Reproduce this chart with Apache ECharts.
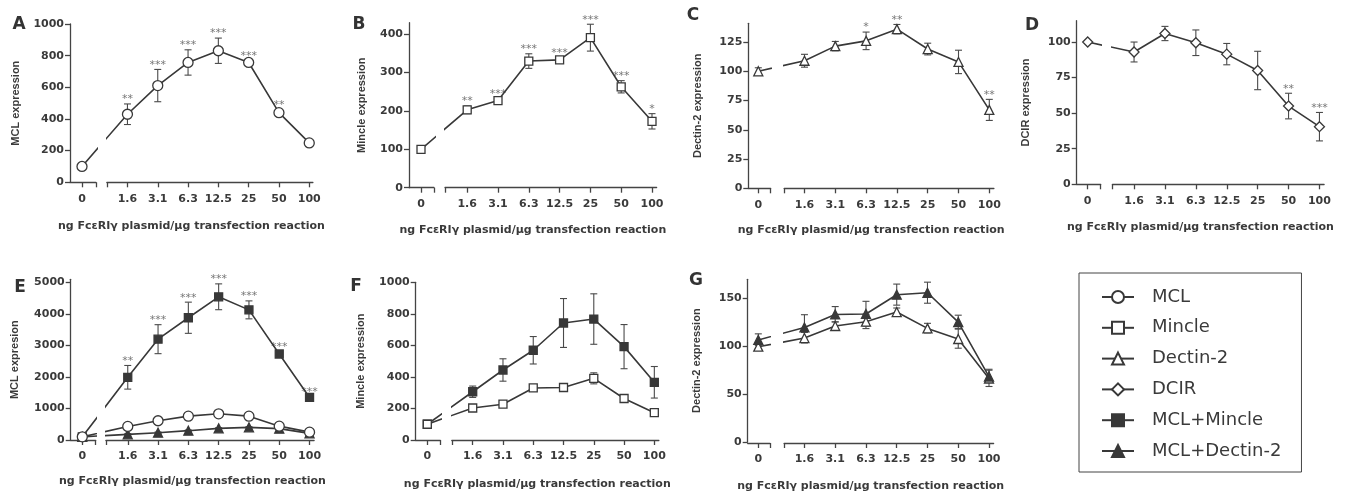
<!DOCTYPE html>
<html><head><meta charset="utf-8">
<script src="https://cdn.jsdelivr.net/npm/echarts@6/dist/echarts.min.js"></script>
<style>html,body{margin:0;padding:0;background:#fff}#c{width:1349px;height:493px}</style>
</head><body><div id="c"></div>
<script>
// ---------- data ----------
const doseLabels = ['0', '1.6', '3.1', '6.3', '12.5', '25', '50', '100'];
const xTitle = 'ng FcεRIγ plasmid/µg transfection reaction';

const mclMean = [100, 430, 611, 757, 831, 757, 440, 249];
const mclErr = [5, 65, 102, 80, 80, 10, 20, 10];
const mincleMean = [100, 203, 227, 330, 333, 391, 263, 173];
const mincleErr = [4, 10, 5, 19, 5, 35, 16, 20];
const dectinMean = [100, 109, 121.5, 126, 136, 119, 108, 67];
const dectinErr = [3, 5.5, 4, 7.5, 4, 5, 10, 9];
const dcirMean = [100, 93, 106, 99.5, 91.5, 80, 55, 40.5];
const dcirErr = [0, 7, 5, 9, 7.5, 13.5, 9, 10];
const mclMincleMeanE = [100, 1990, 3200, 3880, 4545, 4130, 2730, 1350];
const mclMincleErrE = [30, 375, 460, 495, 410, 285, 60, 40];
const mclDectinMeanE = [100, 180, 232, 296, 370, 402, 360, 211];
const mclDectinErrE = [10, 20, 20, 20, 20, 20, 20, 20];
const mclMincleMeanF = [100, 306, 444, 569, 742, 767, 592, 366];
const mclMincleErrF = [4, 36, 71, 87, 155, 160, 140, 100];
const mclDectinMeanG = [107, 120, 133.5, 134, 154, 156, 125.5, 69];
const mclDectinErrG = [6, 13, 8, 13, 11, 11, 7, 6];

const starsA = ['', '**', '***', '***', '***', '***', '**', ''];
const starsB = ['', '**', '***', '***', '***', '***', '***', '*'];
const starsC = ['', '', '', '*', '**', '', '', '**'];
const starsD = ['', '', '', '', '', '', '**', '***'];
const starsE = ['', '**', '***', '***', '***', '***', '***', '***'];

const ticksA = [0, 200, 400, 600, 800, 1000];
const ticksB = [0, 100, 200, 300, 400];
const ticksC = [0, 25, 50, 75, 100, 125];
const ticksD = [0, 25, 50, 75, 100];
const ticksE = [0, 1000, 2000, 3000, 4000, 5000];
const ticksF = [0, 200, 400, 600, 800, 1000];
const ticksG = [0, 50, 100, 150];

const legendNames = ['MCL', 'Mincle', 'Dectin-2', 'DCIR', 'MCL+Mincle', 'MCL+Dectin-2'];

// ---------- styles / layout ----------
const FONT_W = '"DejaVu Sans", sans-serif';
const FONT_N = '"Liberation Sans", Arial, sans-serif';
const DARK = '#383838';
const AXIS = '#444';
const TEXT = '#3a3a3a';
const xPos = doseLabels.map((d, i) => (i === 0 ? 0 : i + 0.5));

const markerStyle = {
  'MCL': { symbol: 'circle', size: 10, fill: '#fff', z: 4 },
  'Mincle': { symbol: 'rect', size: 8, fill: '#fff', z: 4 },
  'Dectin-2': { symbol: 'triangle', size: 9, fill: '#fff', z: 3 },
  'DCIR': { symbol: 'diamond', size: 10, fill: '#fff', z: 4 },
  'MCL+Mincle': { symbol: 'rect', size: 8, fill: DARK, z: 3 },
  'MCL+Dectin-2': { symbol: 'triangle', size: 9, fill: DARK, z: 4 }
};

const panels = [
  { letter: 'A', lx: 19, ly: 25, axisX: 70, zeroX: 82, unit: 30.3, top: 24, bottom: 182.3, ymax: 1000, ticks: ticksA,
    brk: [0.46, 0.82], xmax: 7.62, yName: 'MCL expression', yGap: 49, xGap: 38,
    lines: [{ name: 'MCL', mean: mclMean, err: mclErr, stars: starsA }] },
  { letter: 'B', lx: 359, ly: 25, axisX: 409, zeroX: 421, unit: 30.8, top: 22.7, bottom: 187.7, ymax: 430, ticks: ticksB,
    brk: [0.42, 0.78], xmax: 7.65, yName: 'Mincle expression', yGap: 41.5, xGap: 36.5,
    lines: [{ name: 'Mincle', mean: mincleMean, err: mincleErr, stars: starsB }] },
  { letter: 'C', lx: 693, ly: 16, axisX: 748.3, zeroX: 758.3, unit: 30.8, top: 23.3, bottom: 188.3, ymax: 141, ticks: ticksC,
    brk: [0.40, 0.84], xmax: 7.65, yName: 'Dectin-2 expression', yGap: 45, xGap: 36,
    lines: [{ name: 'Dectin-2', mean: dectinMean, err: dectinErr, stars: starsC }] },
  { letter: 'D', lx: 1032, ly: 26, axisX: 1076.7, zeroX: 1087.7, unit: 30.9, top: 20.7, bottom: 184.3, ymax: 115, ticks: ticksD,
    brk: [0.42, 0.80], xmax: 7.65, yName: 'DCIR expression', yGap: 45, xGap: 37,
    lines: [{ name: 'DCIR', mean: dcirMean, err: dcirErr, stars: starsD }] },
  { letter: 'E', lx: 20, ly: 288, axisX: 70.7, zeroX: 82.3, unit: 30.3, top: 279.3, bottom: 440, ymax: 5100, ticks: ticksE,
    brk: [0.44, 0.78], xmax: 7.65, yName: 'MCL expresion', yGap: 50, xGap: 36,
    lines: [
      { name: 'MCL+Dectin-2', mean: mclDectinMeanE, err: mclDectinErrE, stars: null },
      { name: 'MCL+Mincle', mean: mclMincleMeanE, err: mclMincleErrE, stars: starsE },
      { name: 'MCL', mean: mclMean, err: mclErr, stars: null }
    ] },
  { letter: 'F', lx: 356, ly: 287, axisX: 415.7, zeroX: 427.3, unit: 30.27, top: 282.3, bottom: 440, ymax: 1000, ticks: ticksF,
    brk: [0.43, 0.81], xmax: 7.65, yName: 'Mincle expression', yGap: 49.5, xGap: 39,
    lines: [
      { name: 'MCL+Mincle', mean: mclMincleMeanF, err: mclMincleErrF, stars: null },
      { name: 'Mincle', mean: mincleMean, err: mincleErr, stars: null }
    ] },
  { letter: 'G', lx: 696, ly: 281, axisX: 747.7, zeroX: 758.3, unit: 30.76, top: 279.3, bottom: 443, ymax: 170, ticks: ticksG,
    brk: [0.38, 0.84], xmax: 7.65, yName: 'Dectin-2 expression', yGap: 45, xGap: 39,
    lines: [
      { name: 'Dectin-2', mean: dectinMean, err: dectinErr, stars: null },
      { name: 'MCL+Dectin-2', mean: mclDectinMeanG, err: mclDectinErrG, stars: null }
    ] }
];

function labelFor(v) {
  const i = xPos.findIndex(x => Math.abs(x - v) < 1e-6);
  return i >= 0 ? doseLabels[i] : '';
}

function errRenderer(stars) {
  return function (params, api) {
    const x = api.value(0), m = api.value(1), e = api.value(2);
    const pt = api.coord([x, m + e]);
    const pb = api.coord([x, m - e]);
    const ls = { stroke: '#4a4a4a', lineWidth: 1.1 };
    const children = [];
    if (e > 0) {
      children.push({ type: 'line', shape: { x1: pt[0], y1: pt[1], x2: pb[0], y2: pb[1] }, style: ls });
      children.push({ type: 'line', shape: { x1: pt[0] - 3.5, y1: pt[1], x2: pt[0] + 3.5, y2: pt[1] }, style: ls });
      children.push({ type: 'line', shape: { x1: pb[0] - 3.5, y1: pb[1], x2: pb[0] + 3.5, y2: pb[1] }, style: ls });
    }
    const s = stars && stars[params.dataIndex];
    if (s) {
      children.push({ type: 'text', x: pt[0], y: pt[1] + 1,
        style: { text: s, fill: '#777', font: '11px ' + FONT_W, align: 'center', verticalAlign: 'bottom' } });
    }
    return { type: 'group', children };
  };
}

const grid = [], xAxis = [], yAxis = [], series = [], graphic = [];
const axisLineStyle = { color: AXIS, width: 1.3 };
const tickLabel = { color: TEXT, fontSize: 11, fontWeight: 'bold', fontFamily: FONT_W };

panels.forEach(p => {
  const xmin = (p.axisX - p.zeroX) / p.unit;
  const h = p.bottom - p.top;
  const g0 = grid.length;
  grid.push({ left: p.axisX, top: p.top, width: (p.xmax - xmin) * p.unit, height: h });
  grid.push({ left: p.axisX, top: p.top, width: (p.brk[0] - xmin) * p.unit, height: h });
  grid.push({ left: p.axisX + (p.brk[1] - xmin) * p.unit, top: p.top, width: (p.xmax - p.brk[1]) * p.unit, height: h });

  // full grid: y axis + x axis title
  xAxis.push({ gridIndex: g0, type: 'value', min: xmin, max: p.xmax,
    axisLine: { show: false }, axisTick: { show: false }, axisLabel: { show: false }, splitLine: { show: false },
    name: xTitle, nameLocation: 'middle', nameGap: p.xGap,
    nameTextStyle: { color: TEXT, fontWeight: 'bold', fontFamily: FONT_W, fontSize: 11 } });
  yAxis.push({ gridIndex: g0, type: 'value', min: 0, max: p.ymax,
    axisLine: { show: true, onZero: false, lineStyle: axisLineStyle },
    axisTick: { show: true, length: 5, customValues: p.ticks, lineStyle: axisLineStyle },
    axisLabel: Object.assign({ customValues: p.ticks, margin: 6, formatter: v => String(v) }, tickLabel),
    splitLine: { show: false },
    name: p.yName, nameLocation: 'middle', nameGap: p.yGap,
    nameTextStyle: { color: TEXT, fontWeight: 'bold', fontFamily: FONT_N, fontSize: 11 } });

  // left segment (dose 0)
  xAxis.push({ gridIndex: g0 + 1, type: 'value', min: xmin, max: p.brk[0],
    axisLine: { show: true, onZero: false, lineStyle: axisLineStyle },
    axisTick: { show: true, length: 5, customValues: [xPos[0], p.brk[0]], lineStyle: axisLineStyle },
    axisLabel: Object.assign({ customValues: [xPos[0]], formatter: v => labelFor(v), margin: 11 }, tickLabel),
    splitLine: { show: false } });
  yAxis.push({ gridIndex: g0 + 1, type: 'value', min: 0, max: p.ymax, show: false });

  // right segment (doses 1.6 .. 100)
  xAxis.push({ gridIndex: g0 + 2, type: 'value', min: p.brk[1], max: p.xmax,
    axisLine: { show: true, onZero: false, lineStyle: axisLineStyle },
    axisTick: { show: true, length: 5, customValues: [p.brk[1]].concat(xPos.slice(1)), lineStyle: axisLineStyle },
    axisLabel: Object.assign({ customValues: xPos.slice(1), formatter: v => labelFor(v), margin: 11 }, tickLabel),
    splitLine: { show: false } });
  yAxis.push({ gridIndex: g0 + 2, type: 'value', min: 0, max: p.ymax, show: false });

  p.lines.forEach(l => {
    const st = markerStyle[l.name];
    const pts = xPos.map((x, i) => [x, l.mean[i]]);
    [g0 + 1, g0 + 2].forEach(gi => {
      series.push({ type: 'line', name: l.name, xAxisIndex: gi, yAxisIndex: gi, data: pts, clip: true,
        symbol: st.symbol, symbolSize: st.size, showSymbol: true, showAllSymbol: true,
        lineStyle: { color: DARK, width: 1.6 },
        itemStyle: { color: st.fill, borderColor: DARK, borderWidth: 1.3, opacity: 1 },
        emphasis: { disabled: true }, z: st.z, animation: false, silent: true });
    });
    series.push({ type: 'custom', name: 'err-' + l.name, xAxisIndex: g0, yAxisIndex: g0,
      data: xPos.map((x, i) => [x, l.mean[i], l.err[i]]),
      renderItem: errRenderer(l.stars), z: 1, silent: true, animation: false });
  });

  graphic.push({ type: 'text', x: p.lx, y: p.ly,
    style: { text: p.letter, font: 'bold 17px ' + FONT_W, fill: '#333', align: 'center', verticalAlign: 'middle' } });
});

const option = {
  backgroundColor: '#fff',
  animation: false,
  grid, xAxis, yAxis, series, graphic,
  legend: {
    data: legendNames, orient: 'vertical', left: 1079, top: 273,
    padding: [15, 20, 12, 22], itemGap: 12.8, itemWidth: 32, itemHeight: 15,
    borderColor: '#444', borderWidth: 1, selectedMode: false,
    lineStyle: { width: 2 },
    textStyle: { fontSize: 18, color: TEXT, fontFamily: FONT_W, padding: [0, 0, 0, 13] }
  }
};

const chart = echarts.init(document.getElementById('c'), null, { renderer: 'canvas' });
chart.setOption(option);
</script>
</body></html>
